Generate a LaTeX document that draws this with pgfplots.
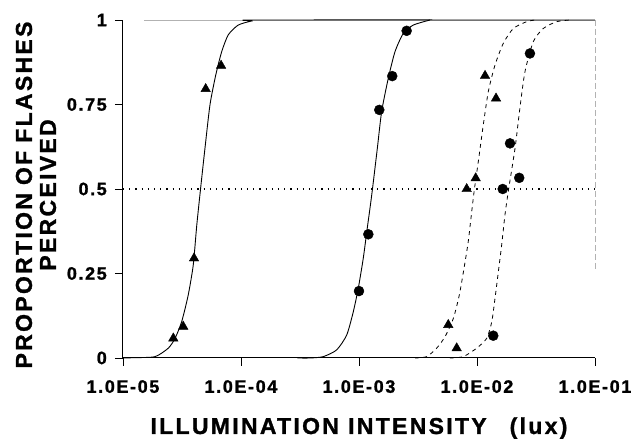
\documentclass[border=0pt]{standalone}
\usepackage{fontspec}
\newfontfamily\tickf{Liberation Sans}[LetterSpace=9, BoldFeatures={FakeBold=1.2}]
\newfontfamily\labf{Liberation Sans}[LetterSpace=10, BoldFeatures={FakeBold=1.2}]
\usepackage{pgfplots}
\pgfplotsset{compat=1.18}

\begin{document}
\begin{tikzpicture}
\begin{axis}[
  scale only axis, width=472pt, height=338pt,
  xmode=log, xmin=1e-5, xmax=1e-1, ymin=0, ymax=1,
  axis lines=left, axis line style={line width=1pt, -},
  clip=false,
  xtick={1e-5,1e-4,1e-3,1e-2,1e-1},
  xticklabels={1.0E-05,1.0E-04,1.0E-03,1.0E-02,1.0E-01},
  ytick={0,0.25,0.5,0.75,1},
  yticklabels={0,0.25,0.5,0.75,1},
  minor tick num=0, xminorticks=false,
  tick align=outside, major tick length=8pt, tick style={black, line width=0.8pt},
  tick label style={font=\tickf\bfseries\fontsize{18}{18}\selectfont, inner sep=0pt},
  xticklabel style={anchor=north, yshift=-14pt},
  yticklabel style={anchor=east, xshift=-8pt},
  xlabel={ILLUMINATION\hspace{0.4em}INTENSITY\hspace{1em}(lux)},
  xlabel style={font=\labf\bfseries\fontsize{23}{23}\selectfont, anchor=base,
    at={(axis description cs:0.5,0)}, yshift=-76pt},
  ylabel={PROPORTION\hspace{0.35em}OF\hspace{0.35em}FLASHES\\PERCEIVED},
  ylabel style={font=\labf\bfseries\fontsize{23}{24}\selectfont, align=center,
    anchor=center, at={(axis description cs:0,0.5)}, yshift=87pt, xshift=-6pt},
]
% faint frame (top and right)
\addplot[gray!60, line width=0.6pt] coordinates {(1.5e-5,1) (1e-1,1)};
\addplot[gray!60, line width=0.6pt, dash pattern=on 6pt off 3pt] coordinates {(1e-1,1) (1e-1,0.26)};
% 50% line
\addplot[black, line width=1.1pt, dash pattern=on 1.2pt off 5pt] coordinates {(1e-5,0.5) (1e-1,0.5)};

% fitted curves
\addplot[black, line width=0.9pt, smooth, tension=0.4] coordinates {
(1.0e-5,0) (1.26e-5,0.001) (1.87e-5,0.004) (2.42e-5,0.029) (2.76e-5,0.058)
(3.14e-5,0.107) (3.57e-5,0.186) (3.94e-5,0.275) (4.22e-5,0.393) (4.58e-5,0.512)
(4.95e-5,0.62) (5.46e-5,0.749) (6.11e-5,0.837) (6.86e-5,0.906) (7.80e-5,0.956)
(9.48e-5,0.985) (1.23e-4,0.997) (1.50e-4,1) (1e-1,1)};
\addplot[black, line width=0.9pt, smooth, tension=0.4] coordinates {
(3.0e-4,0) (3.85e-4,0) (4.98e-4,0.004) (6.47e-4,0.024) (7.87e-4,0.068)
(8.95e-4,0.137) (9.86e-4,0.206) (1.087e-3,0.295) (1.175e-3,0.384) (1.282e-3,0.482)
(1.43e-3,0.62) (1.556e-3,0.729) (1.77e-3,0.827) (2.018e-3,0.906) (2.371e-3,0.96)
(2.884e-3,0.985) (4.0e-3,1)};
\addplot[black, line width=0.8pt, dash pattern=on 4pt off 4pt, smooth, tension=0.4] coordinates {
(2.99e-3,0) (3.75e-3,0.004) (4.55e-3,0.029) (5.36e-3,0.063) (6.30e-3,0.117)
(7.08e-3,0.186) (7.76e-3,0.265) (8.43e-3,0.344) (9.02e-3,0.433) (9.53e-3,0.502)
(1.026e-2,0.581) (1.13e-2,0.689) (1.247e-2,0.788) (1.422e-2,0.867) (1.671e-2,0.931)
(2.032e-2,0.975) (2.636e-2,0.995) (3.10e-2,1)};
\addplot[black, line width=0.8pt, dash pattern=on 4pt off 4pt, smooth, tension=0.4] coordinates {
(5.9e-3,0) (7.66e-3,0.004) (9.93e-3,0.029) (1.208e-2,0.058) (1.334e-2,0.107)
(1.422e-2,0.177) (1.517e-2,0.255) (1.618e-2,0.334) (1.726e-2,0.423) (1.84e-2,0.492)
(2.10e-2,0.62) (2.31e-2,0.739) (2.55e-2,0.847) (3.0e-2,0.936) (3.65e-2,0.975)
(4.73e-2,0.995) (6.14e-2,1)};

% observed points
\addplot[only marks, mark=triangle*, mark size=5.5pt, black] coordinates {
(2.67e-5,0.058) (3.24e-5,0.093) (4.0e-5,0.295) (5.02e-5,0.796) (6.78e-5,0.865)};
\addplot[only marks, mark=*, mark size=5pt, black] coordinates {
(1.0e-3,0.198) (1.2e-3,0.366) (1.486e-3,0.734) (1.914e-3,0.834) (2.535e-3,0.968)};
\addplot[only marks, mark=triangle*, mark size=5.5pt, black] coordinates {
(5.71e-3,0.098) (6.73e-3,0.029) (8.18e-3,0.50) (9.75e-3,0.532) (1.17e-2,0.835) (1.45e-2,0.768)};
\addplot[only marks, mark=*, mark size=5pt, black] coordinates {
(1.374e-2,0.066) (1.652e-2,0.50) (1.905e-2,0.635) (2.28e-2,0.533) (2.81e-2,0.901)};
\end{axis}
\path ([xshift=-123pt,yshift=-78pt]current axis.south west) rectangle ([xshift=38pt,yshift=20pt]current axis.north east);
\end{tikzpicture}
\end{document}
